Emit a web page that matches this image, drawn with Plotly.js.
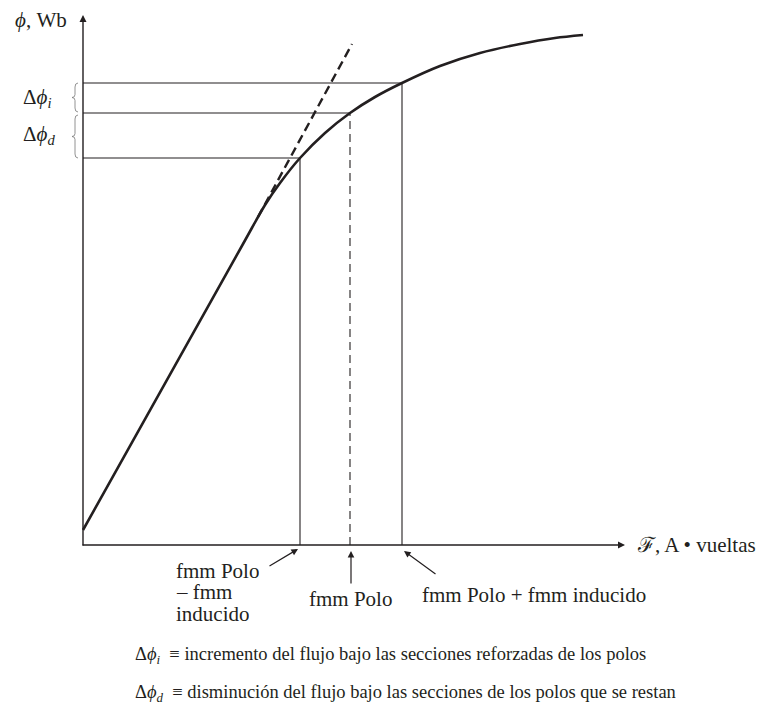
<!DOCTYPE html>
<html>
<head>
<meta charset="utf-8">
<script src="https://cdn.plot.ly/plotly-3.0.1.min.js"></script>
<style>
  html, body { margin: 0; padding: 0; background: white; }
  #chart { width: 759px; height: 711px; }
</style>
</head>
<body>
<div id="chart"></div>
<script>
// curva de magnetizacion (unidades = pixeles desde el origen)
const curveX = [0, 160, 182, 197, 217, 242, 267, 292, 319, 357, 397, 437, 472, 500];
const curveY = [15, 301, 340, 362, 387, 412, 432, 448, 462, 479, 492, 501, 507, 510];

// prolongacion lineal (tramo discontinuo)
const tangentX = [175, 269];
const tangentY = [328, 501];

// fmm: polo - inducido, polo, polo + inducido  /  flujos correspondientes
const mmfValues = [217, 267, 319];
const fluxLevels = [387, 432, 462];
const mmfDash = ["solid", "dash", "solid"];

// rotulo de la izquierda, una linea por fila
const leftLabelLines = ["fmm Polo", "– fmm", "inducido"];

const ink = "#231f20";
const serif = "Liberation Serif";

const traces = [];
traces.push({
  x: curveX, y: curveY, type: "scatter", mode: "lines",
  line: { color: ink, width: 2.6, shape: "spline", smoothing: 0.9 }, hoverinfo: "skip"
});
traces.push({
  x: tangentX, y: tangentY, type: "scatter", mode: "lines",
  line: { color: ink, width: 2.4, dash: "9px,5px" }, hoverinfo: "skip"
});
for (let i = 0; i < mmfValues.length; i++) {
  // horizontal desde el eje hasta la curva
  traces.push({
    x: [0, mmfValues[i]], y: [fluxLevels[i], fluxLevels[i]], type: "scatter", mode: "lines",
    line: { color: ink, width: 1.1 }, hoverinfo: "skip"
  });
  // vertical desde la curva hasta el eje
  traces.push({
    x: [mmfValues[i], mmfValues[i]], y: [0, fluxLevels[i]], type: "scatter", mode: "lines",
    line: { color: ink, width: 1.1, dash: mmfDash[i] === "dash" ? "8px,5px" : "solid" }, hoverinfo: "skip"
  });
}

// llaves a la izquierda del eje
function brace(yTop, yBot, x) {
  const ym = (yTop + yBot) / 2;
  return "M " + (x + 3) + "," + yTop + " Q " + x + "," + yTop + " " + x + "," + (yTop - 4) +
    " L " + x + "," + (ym + 3) + " Q " + x + "," + ym + " " + (x - 3) + "," + ym +
    " Q " + x + "," + ym + " " + x + "," + (ym - 3) +
    " L " + x + "," + (yBot + 4) + " Q " + x + "," + yBot + " " + (x + 3) + "," + yBot;
}
const shapes = [
  { type: "path", path: brace(fluxLevels[2], fluxLevels[1] + 1, -8), line: { color: "#777", width: 0.8 } },
  { type: "path", path: brace(fluxLevels[1] - 2, fluxLevels[0], -8), line: { color: "#777", width: 0.8 } }
];

const fnt = { family: serif, size: 21, color: ink };
const fntSmall = { family: serif, size: 18.5, color: ink };
function arrow(x, y, ax, ay) {
  return { x: x, y: y, ax: ax, ay: ay, axref: "x", ayref: "y", xref: "x", yref: "y",
    text: "", showarrow: true, arrowhead: 2, arrowsize: 1.1, arrowwidth: 1.2, arrowcolor: ink };
}
const annotations = [
  // ejes
  { x: 542, y: 0, ax: -2, ay: 0, axref: "x", ayref: "y", text: "", showarrow: true,
    arrowhead: 2, arrowsize: 1, arrowwidth: 1.4, arrowcolor: ink },
  { x: 0, y: 530, ax: 0, ay: -2, axref: "x", ayref: "y", text: "", showarrow: true,
    arrowhead: 2, arrowsize: 1, arrowwidth: 1.4, arrowcolor: ink },
  // flechas a las fmm
  arrow(mmfValues[0] - 2, -4, 185, -22),
  arrow(mmfValues[1] + 1, -6, 268, -40),
  arrow(mmfValues[2] + 2, -6, 354, -30),
  // textos
  { x: -70, y: 525, text: "<i>ϕ</i>, Wb", showarrow: false, xanchor: "left", font: fnt },
  { x: -62, y: 447, text: "Δ<i>ϕ</i><sub><i>i</i></sub>", showarrow: false, xanchor: "left", font: fnt },
  { x: -62, y: 410, text: "Δ<i>ϕ</i><sub><i>d</i></sub>", showarrow: false, xanchor: "left", font: fnt },
  { x: 552, y: 0, text: "ℱ, A • vueltas", showarrow: false, xanchor: "left", font: fnt },
  { x: 267, y: -54, text: "fmm Polo", showarrow: false, xanchor: "center", font: fnt },
  { x: 337, y: -50, text: "fmm Polo + fmm inducido", showarrow: false, xanchor: "left", font: fnt },
  { x: 50, y: -110, text: "Δ<i>ϕ</i><sub><i>i</i></sub>\u00a0 ≡ incremento del flujo bajo las secciones reforzadas de los polos",
    showarrow: false, xanchor: "left", font: fntSmall },
  { x: 50, y: -148, text: "Δ<i>ϕ</i><sub><i>d</i></sub>\u00a0 ≡ disminución del flujo bajo las secciones de los polos que se restan",
    showarrow: false, xanchor: "left", font: fntSmall }
];
leftLabelLines.forEach(function (t, i) {
  annotations.push({ x: 91, y: -25 - 21.5 * i, text: t, showarrow: false, xanchor: "left",
    height: 21, font: fnt });
});

const layout = {
  width: 759, height: 711,
  margin: { l: 0, r: 0, t: 0, b: 0 },
  plot_bgcolor: "white", paper_bgcolor: "white",
  showlegend: false,
  xaxis: { range: [-83, 676], visible: false, fixedrange: true },
  yaxis: { range: [-166, 545], visible: false, fixedrange: true },
  shapes: shapes,
  annotations: annotations
};

Plotly.newPlot("chart", traces, layout, { displayModeBar: false, staticPlot: true });
</script>
</body>
</html>
